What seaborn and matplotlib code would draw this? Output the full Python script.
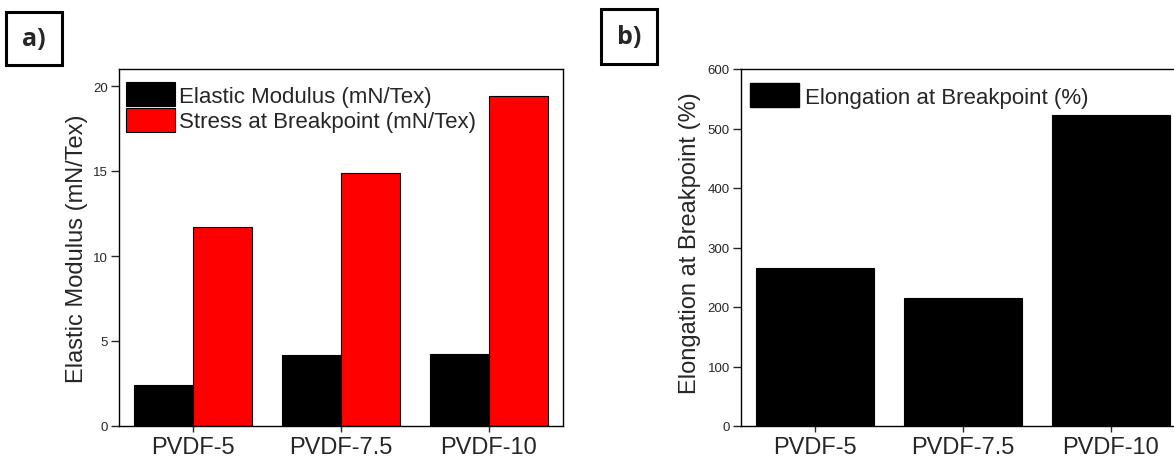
import pandas as pd
import numpy as np
import matplotlib
matplotlib.use("Agg")
import matplotlib.pyplot as plt
import matplotlib.patches as patches
from matplotlib.patches import Patch
import seaborn as sns

# values
samples = ["PVDF-5", "PVDF-7.5", "PVDF-10"]
elastic_modulus = [2.43, 4.17, 4.25]
stress_break = [11.70, 14.91, 19.43]
elongation_break = [265, 215, 523]

sns.set_style("ticks")
plt.rcParams['font.family'] = ['Liberation Sans', 'DejaVu Sans']

W, H = 1174, 460
fig = plt.figure(figsize=(W / 100, H / 100), dpi=100)

# long-form table for the grouped bars
df_a = pd.DataFrame({
    "sample": samples * 2,
    "value": elastic_modulus + stress_break,
    "series": ["Elastic Modulus (mN/Tex)"] * 3 + ["Stress at Breakpoint (mN/Tex)"] * 3,
})
df_b = pd.DataFrame({"sample": samples, "value": elongation_break})

ax1 = fig.add_axes([119 / W, 1 - 427 / H, 444 / W, 357 / H])
ax2 = fig.add_axes([741 / W, 1 - 427 / H, 444 / W, 357 / H])

sns.barplot(data=df_a, x="sample", y="value", hue="series", order=samples,
            palette=["#000000", "#ff0000"], saturation=1, width=0.8,
            edgecolor="black", linewidth=0.8, errorbar=None, ax=ax1)
sns.barplot(data=df_b, x="sample", y="value", order=samples, color="black",
            saturation=1, width=0.8, edgecolor="black", linewidth=0.8,
            errorbar=None, ax=ax2)

ax1.set_ylim(0, 21)
ax1.set_yticks([0, 5, 10, 15, 20])
ax2.set_ylim(0, 600)
ax2.set_yticks(np.arange(0, 601, 100))

for ax in (ax1, ax2):
    ax.set_xlim(-0.5, 2.5)
    ax.set_xlabel("")
    for s in ax.spines.values():
        s.set_linewidth(1.0)
        s.set_color("black")
    ax.tick_params(axis="y", direction="out", length=6, width=1.0,
                   labelsize=9.5, pad=2)
    ax.tick_params(axis="x", direction="out", length=4.5, width=1.0,
                   labelsize=17, pad=3)

ax1.set_ylabel("Elastic Modulus (mN/Tex)", fontsize=17)
ax2.set_ylabel("Elongation at Breakpoint (%)", fontsize=17)
ax1.yaxis.set_label_coords(-0.07, 0.5)
ax2.yaxis.set_label_coords(-0.09, 0.515)

ax1.legend(loc="upper left", bbox_to_anchor=(0.006, 0.976), frameon=False,
           fontsize=16, handlelength=2.2, handleheight=1.3, labelspacing=0.05,
           handletextpad=0.2, borderaxespad=0, borderpad=0.2)

ax2.legend(handles=[Patch(facecolor="black", edgecolor="black")],
           labels=["Elongation at Breakpoint (%)"], loc="upper left",
           bbox_to_anchor=(0.0104, 0.973), frameon=False, fontsize=16,
           handlelength=2.2, handleheight=1.3, handletextpad=0.25,
           borderaxespad=0, borderpad=0.2)

# panel tags in boxes
for (x0, y0, x1, y1, tag) in [(6, 13, 62, 66, "a)"), (601, 10, 657, 65, "b)")]:
    fig.patches.append(patches.Rectangle((x0 / W, 1 - y1 / H), (x1 - x0) / W,
                                         (y1 - y0) / H, transform=fig.transFigure,
                                         fill=False, edgecolor="black", linewidth=2.2))
    fig.text((x0 + x1) / 2 / W, 1 - (y0 + y1) / 2 / H, tag, ha="center",
             va="center", fontsize=18, fontweight="bold",
             family=["Open Sans", "DejaVu Sans"])

fig.savefig("out.png", dpi=100)
